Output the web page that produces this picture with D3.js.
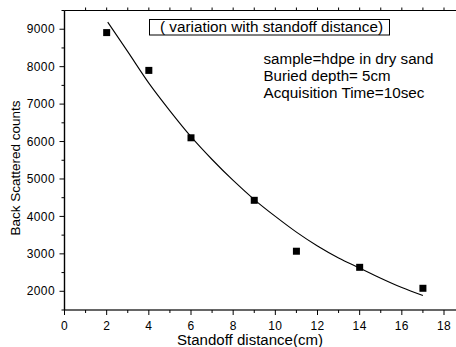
<!DOCTYPE html>
<html><head><meta charset="utf-8">
<script src="https://cdn.jsdelivr.net/npm/d3@7"></script>
<style>body{margin:0;background:#fff}svg{display:block}text{font-family:"Liberation Sans",Arial,sans-serif;fill:#000}</style>
</head><body><svg id="c" width="456" height="347"></svg>
<script>
const distance = [2, 4, 6, 9, 11, 14, 17];
const counts = [8910, 7900, 6100, 4430, 3070, 2640, 2080];
const fitX = [2.05, 3, 4, 5, 6, 7, 8, 9, 10, 11, 12, 13, 14, 15, 16, 17];
const fitY = [9190, 8400, 7560, 6820, 6130, 5520, 4960, 4450, 4000, 3580, 3210, 2890, 2620, 2350, 2100, 1885];
const xTicks = [0, 2, 4, 6, 8, 10, 12, 14, 16, 18];
const yTicks = [2000, 3000, 4000, 5000, 6000, 7000, 8000, 9000];
const titleBox = "( variation with standoff distance)";
const notes = ["sample=hdpe in dry sand", "Buried depth= 5cm", "Acquisition Time=10sec"];
const noteWidths = [170, 127, 161];
const xLabel = "Standoff distance(cm)";
const yLabel = "Back Scattered counts";

const svg = d3.select("#c");
const L = 64.5, T = 10.5, B = 310, R = 456;
const x = d3.scaleLinear().domain([0, 18]).range([64.5, 444]);
const y = d3.scaleLinear().domain([1500, 9500]).range([B, T]);

const xMinor = d3.range(1, 19, 2);
const yMinor = d3.range(1500, 9501, 1000);

// bottom axis
const gx = svg.append("g").attr("transform", `translate(0,${B})`);
gx.append("line").attr("x1", L).attr("x2", R).attr("stroke", "#333").attr("stroke-width", 1.6);
gx.selectAll(".mj").data(xTicks).join("line").attr("class","mj").attr("x1", d => x(d)).attr("x2", d => x(d)).attr("y1", 0).attr("y2", 5).attr("stroke", "#000");
gx.selectAll(".mn").data(xMinor).join("line").attr("class","mn").attr("x1", d => x(d)).attr("x2", d => x(d)).attr("y1", 0).attr("y2", 3).attr("stroke", "#000");
gx.selectAll("text").data(xTicks).join("text").attr("x", d => x(d)).attr("y", 19.5).attr("text-anchor", "middle").attr("font-size", 12).attr("letter-spacing", 0.4).text(d => d);

// top axis
const gt = svg.append("g").attr("transform", `translate(0,${T})`);
gt.append("line").attr("x1", L).attr("x2", R).attr("stroke", "#000").attr("stroke-width", 1.2);
gt.selectAll(".mn").data(d3.range(1, 19)).join("line").attr("class","mn").attr("x1", d => x(d)).attr("x2", d => x(d)).attr("y1", 0).attr("y2", -3).attr("stroke", "#000");

// left axis
const gy = svg.append("g").attr("transform", `translate(${L},0)`);
gy.append("line").attr("y1", T).attr("y2", B).attr("stroke", "#000").attr("stroke-width", 1.4);
gy.selectAll(".mj").data(yTicks).join("line").attr("class","mj").attr("y1", d => y(d)).attr("y2", d => y(d)).attr("x1", 0).attr("x2", -5).attr("stroke", "#000");
gy.selectAll(".mn").data(yMinor).join("line").attr("class","mn").attr("y1", d => y(d)).attr("y2", d => y(d)).attr("x1", 0).attr("x2", -3).attr("stroke", "#000");
gy.selectAll("text").data(yTicks).join("text").attr("x", -9.5).attr("y", d => y(d) + 4.2).attr("text-anchor", "end").attr("font-size", 12).attr("letter-spacing", 0.4).text(d => d);

// fit curve
const line = d3.line().x((d, i) => x(fitX[i])).y(d => y(d)).curve(d3.curveMonotoneX);
svg.append("path").attr("d", line(fitY)).attr("fill", "none").attr("stroke", "#000").attr("stroke-width", 1.1);

// points
svg.selectAll(".pt").data(distance).join("rect").attr("class","pt")
  .attr("x", d => x(d) - 3.5).attr("y", (d, i) => y(counts[i]) - 3.5)
  .attr("width", 7).attr("height", 7).attr("fill", "#000");

// title box
svg.append("rect").attr("x", 149.5).attr("y", 19.5).attr("width", 240).attr("height", 15.5).attr("fill", "#fff").attr("stroke", "#000").attr("stroke-width", 1);
svg.append("text").attr("x", 160).attr("y", 31.5).attr("font-size", 14).attr("textLength", 223).attr("lengthAdjust", "spacingAndGlyphs").text(titleBox);

// notes
svg.selectAll(".note").data(notes).join("text").attr("class","note")
  .attr("x", 263.5).attr("y", (d, i) => 63.5 + i * 17).attr("font-size", 14)
  .attr("textLength", (d, i) => noteWidths[i]).attr("lengthAdjust", "spacingAndGlyphs").text(d => d);

// axis titles
svg.append("text").attr("x", 177).attr("y", 344.5).attr("font-size", 14).attr("textLength", 146).attr("lengthAdjust", "spacingAndGlyphs").text(xLabel);
svg.append("text").attr("transform", "translate(19.5,168) rotate(-90)").attr("text-anchor", "middle").attr("font-size", 13.5).text(yLabel);
</script></body></html>
